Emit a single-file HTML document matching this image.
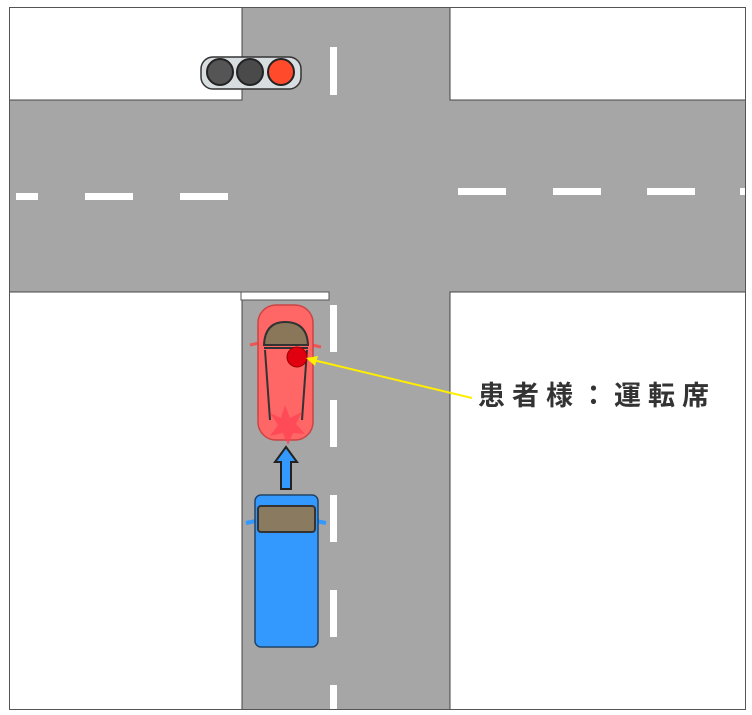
<!DOCTYPE html>
<html><head><meta charset="utf-8"><style>
html,body{margin:0;padding:0;background:#fff;width:752px;height:715px;overflow:hidden}
</style></head><body>
<svg width="752" height="715" viewBox="0 0 752 715" xmlns="http://www.w3.org/2000/svg">
<rect x="9.5" y="7.5" width="736" height="702" fill="#fff" stroke="#555" stroke-width="1"/>
<rect x="242" y="8" width="208" height="701" fill="#a6a6a6"/>
<rect x="10" y="100" width="735" height="192" fill="#a6a6a6"/>
<path d="M242 8 V100 H10 M450 8 V100 H745 M10 292 H242 V709 M745 292 H450 V709" fill="none" stroke="#444" stroke-width="1"/>
<rect x="241" y="292" width="88" height="8" fill="#fff" stroke="#555" stroke-width="1"/>
<g fill="#fff">
<rect x="330" y="47" width="7" height="48"/>
<rect x="330" y="305" width="7" height="47"/>
<rect x="330" y="400" width="7" height="47"/>
<rect x="330" y="495" width="7" height="47"/>
<rect x="330" y="590" width="7" height="47"/>
<rect x="330" y="685" width="7" height="24"/>
<rect x="16" y="193" width="22" height="7"/>
<rect x="85" y="193" width="48" height="7"/>
<rect x="180" y="193" width="48" height="7"/>
<rect x="458" y="188" width="48" height="7"/>
<rect x="553" y="188" width="48" height="7"/>
<rect x="647" y="188" width="48" height="7"/>
<rect x="740" y="188" width="5" height="7"/>
</g>
<rect x="201" y="57" width="100" height="32" rx="12" fill="#d8dde0" stroke="#333" stroke-width="1.5"/>
<circle cx="220" cy="72" r="13" fill="#555" stroke="#222" stroke-width="2"/>
<circle cx="250" cy="72" r="13" fill="#4a4a4a" stroke="#222" stroke-width="2"/>
<circle cx="281" cy="72" r="13" fill="#ff4b2b" stroke="#222" stroke-width="2"/>
<path d="M250 345 l9 -2 M312 345 l9 2" stroke="#e55" stroke-width="3"/>
<rect x="258" y="305" width="55" height="135" rx="18" fill="#ff6666" stroke="#c44" stroke-width="1.5"/>
<path d="M264 345 Q265 322 285 322 Q307 322 308 345 Z" fill="#8a7658" stroke="#333" stroke-width="2"/>
<path d="M265 350 L270 420 M307 350 L302 420 M264 348 H308" stroke="#333" stroke-width="2" fill="none"/>
<circle cx="297" cy="357" r="10" fill="#e00010" stroke="#900" stroke-width="1"/>
<polygon points="285,405 290,418 302,412 296,424 305,434 293,433 288,445 283,433 270,436 278,425 270,413 281,418" fill="#ff4455" opacity="0.8"/>
<polygon points="286,447 297,462 291,462 291,489 281,489 281,462 275,462" fill="#3399ff" stroke="#222" stroke-width="2"/>
<path d="M246 523 l10 -2 M316 521 l10 2" stroke="#39f" stroke-width="4"/>
<rect x="255" y="495" width="63" height="152" rx="6" fill="#3399ff" stroke="#246" stroke-width="1.5"/>
<rect x="258" y="506" width="57" height="26" rx="3" fill="#8a7a60" stroke="#333" stroke-width="2"/>
<line x1="472" y1="398" x2="309" y2="359" stroke="#ffee00" stroke-width="2"/>
<polygon points="306,358 318,356 315,366" fill="#ffee00"/>
<text x="478" y="405" font-family="'Liberation Sans','Noto Sans CJK JP',sans-serif" font-size="27" font-weight="bold" fill="#333" letter-spacing="7">患者様：運転席</text>
</svg>
</body></html>
